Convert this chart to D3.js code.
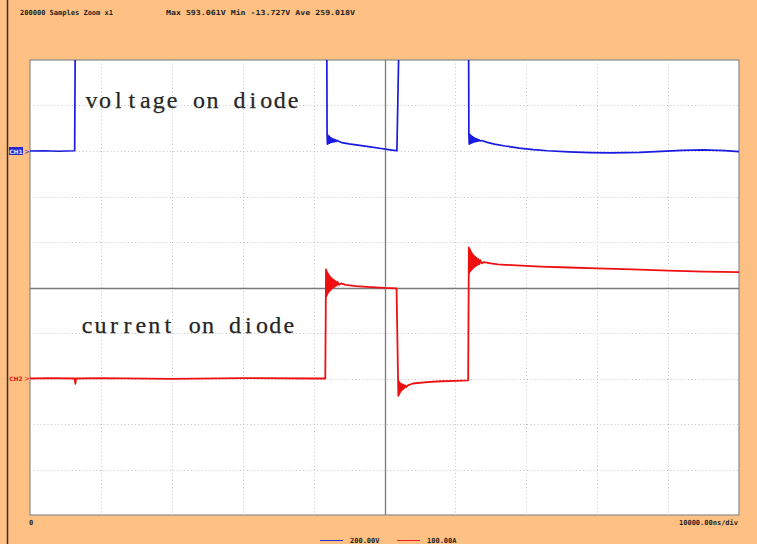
<!DOCTYPE html>
<html>
<head>
<meta charset="utf-8">
<script src="https://cdn.jsdelivr.net/npm/d3@7"></script>
<style>
  html, body { margin: 0; padding: 0; background: #FFC183; }
  svg { display: block; }
</style>
</head>
<body>
<svg id="scope" width="757" height="544"></svg>
<script>
// ---- Acquisition header / footer text ----
const headerLeft = "200000 Samples Zoom x1";
const headerStats = "Max  593.061V  Min  -13.727V  Ave  259.018V";
const timeBase = "10000.00ns/div";
const timeOrigin = "0";
const channelScales = ["200.00V", "100.00A"];
const channelNames = ["CH1", "CH2"];
const annotations = ["voltage on diode", "current on diode"];

// ---- Screen layout: 10 x 10 divisions, 10 us/div ----
const timeDomain = [0, 100];          // microseconds
const divDomain = [-5, 5];            // vertical divisions
const voltsPerDiv = 200;
const ampsPerDiv = 100;
const ch1Offset = 3;                  // CH1 reference (div)
const ch2Offset = -2;                 // CH2 reference (div)

// ---- CH1: diode voltage [time us, volts] ----
const voltageTrace = [
  [0, 0], [2, 1], [4, -1], [6.3, 1], [6.4, 593], [41.85, 593],
  [41.9, 74], [41.95, 30], [42.0, 70], [42.05, 32], [42.1, 67], [42.15, 34],
  [42.2, 64], [42.25, 35], [42.3, 61], [42.36, 37], [42.42, 58], [42.48, 38],
  [42.55, 56], [42.62, 39], [42.7, 53], [42.78, 40], [42.87, 51], [42.96, 41],
  [43.06, 49], [43.17, 42], [43.3, 47], [43.5, 43], [44.0, 37], [45.0, 31],
  [46.5, 25], [48.0, 18], [49.5, 11], [50.8, 5], [51.75, 1], [52.1, 593], [61.85, 593],
  [61.9, 78], [61.95, 30], [62.0, 74], [62.05, 32], [62.1, 71], [62.15, 34],
  [62.2, 68], [62.25, 35], [62.3, 65], [62.36, 37], [62.42, 62], [62.48, 38],
  [62.55, 60], [62.62, 40], [62.7, 57], [62.78, 41], [62.87, 55], [62.96, 42],
  [63.06, 53], [63.17, 43], [63.3, 50], [63.45, 44], [63.7, 46], [64.5, 38],
  [65.5, 30], [67.0, 22], [69.0, 13], [71.0, 6], [73.0, 1], [76.0, -4],
  [79.0, -7], [82.0, -8], [86.0, -6], [89.0, -2], [92.0, 3], [95.0, 5],
  [98.0, 2], [100, -3]
];

// ---- CH2: diode current [time us, amps] ----
const currentTrace = [
  [0, 0], [3, 1], [6.3, 0], [6.4, -12], [6.5, 0], [10, 1], [20, -1],
  [30, 1], [40, 0], [41.65, 0], [41.75, 240],
  [41.8, 180], [41.85, 236], [41.9, 184], [41.95, 233], [42.0, 187],
  [42.05, 230], [42.1, 190], [42.16, 227], [42.22, 192], [42.28, 225],
  [42.34, 194], [42.41, 222], [42.48, 196], [42.55, 220], [42.63, 198],
  [42.71, 218], [42.8, 200], [42.9, 216], [43.0, 202], [43.12, 214],
  [43.25, 204], [43.4, 212], [43.6, 206], [43.9, 209], [44.5, 206],
  [46.0, 203], [48.0, 201], [50.0, 199], [51.7, 198],
  [51.95, -38], [52.0, -6], [52.05, -35], [52.1, -8], [52.16, -32],
  [52.22, -10], [52.28, -29], [52.35, -12], [52.42, -26], [52.5, -13],
  [52.59, -24], [52.68, -14], [52.78, -21], [52.9, -15], [53.05, -19],
  [53.3, -15], [54.0, -11], [56.0, -8], [58.0, -6], [60.0, -5],
  [61.8, -4], [61.9, 288],
  [61.95, 232], [62.0, 285], [62.05, 235], [62.1, 282], [62.15, 237],
  [62.2, 279], [62.26, 239], [62.32, 276], [62.38, 241], [62.45, 273],
  [62.52, 243], [62.6, 270], [62.68, 245], [62.77, 268], [62.87, 247],
  [62.97, 265], [63.08, 249], [63.2, 263], [63.35, 251], [63.5, 260],
  [63.7, 253], [64.0, 256], [65.0, 253], [66.0, 251], [68.0, 249],
  [72.0, 246], [76.0, 244], [80.0, 242], [85.0, 240], [90.0, 237],
  [95.0, 235], [100, 234]
];

const plot = { left: 30, top: 60, right: 739, bottom: 515 };
const svg = d3.select("#scope");

const x = d3.scaleLinear().domain(timeDomain).range([plot.left, plot.right]);
const y = d3.scaleLinear().domain(divDomain).range([plot.bottom, plot.top]);
const yV = v => y(v / voltsPerDiv + ch1Offset);
const yI = i => y(i / ampsPerDiv + ch2Offset);

// instrument frame edge on the left
svg.append("line")
  .attr("x1", 7.5).attr("x2", 7.5).attr("y1", 0).attr("y2", 544)
  .attr("stroke", "#3a3028").attr("stroke-width", 1.5);

// header
const small = { "font-family": "DejaVu Sans Mono, monospace", "font-weight": "bold", "font-size": "7px", fill: "#1e1e1e" };
function applyAttrs(sel, attrs) { Object.entries(attrs).forEach(([k, v]) => sel.attr(k, v)); return sel; }
applyAttrs(svg.append("text").attr("x", 20).attr("y", 15)
  .attr("textLength", 93).attr("lengthAdjust", "spacingAndGlyphs").text(headerLeft), small);
applyAttrs(svg.append("text").attr("x", 166).attr("y", 15)
  .attr("textLength", 189).attr("lengthAdjust", "spacingAndGlyphs").text(headerStats), small);

// plot area
svg.append("rect")
  .attr("x", plot.left).attr("y", plot.top)
  .attr("width", plot.right - plot.left).attr("height", plot.bottom - plot.top)
  .attr("fill", "#ffffff").attr("stroke", "#8a8a8a").attr("stroke-width", 1.2);

// dotted graticule
const tDivs = d3.range(timeDomain[0], timeDomain[1] + 1, 10);
const vDivs = d3.range(divDomain[0], divDomain[1] + 1, 1);
const grid = svg.append("g");
grid.selectAll(".gx").data(tDivs.slice(1, -1)).join("line")
  .attr("x1", d => Math.round(x(d)) + 0.5).attr("x2", d => Math.round(x(d)) + 0.5)
  .attr("y1", plot.top).attr("y2", plot.bottom)
  .attr("stroke", d => d === 50 ? "#7a7a7a" : "#c4c4c4")
  .attr("stroke-width", d => d === 50 ? 1.3 : 1)
  .attr("stroke-dasharray", d => d === 50 ? null : "1,2.5");
grid.selectAll(".gy").data(vDivs.slice(1, -1)).join("line")
  .attr("y1", d => Math.round(y(d)) + 0.5).attr("y2", d => Math.round(y(d)) + 0.5)
  .attr("x1", plot.left).attr("x2", plot.right)
  .attr("stroke", d => d === 0 ? "#7a7a7a" : "#c4c4c4")
  .attr("stroke-width", d => d === 0 ? 1.3 : 1)
  .attr("stroke-dasharray", d => d === 0 ? null : "1,2.5");

// traces
svg.append("clipPath").attr("id", "screen").append("rect")
  .attr("x", plot.left).attr("y", plot.top)
  .attr("width", plot.right - plot.left).attr("height", plot.bottom - plot.top);
const traces = svg.append("g").attr("clip-path", "url(#screen)");

const vLine = d3.line().x(d => x(d[0])).y(d => yV(d[1]));
const iLine = d3.line().x(d => x(d[0])).y(d => yI(d[1]));

traces.append("path").datum(currentTrace).attr("d", iLine)
  .attr("fill", "none").attr("stroke", "#ee1010").attr("stroke-width", 1.8)
  .attr("stroke-linejoin", "round");
traces.append("path").datum(voltageTrace).attr("d", vLine)
  .attr("fill", "none").attr("stroke", "#1a1ae0").attr("stroke-width", 1.7)
  .attr("stroke-linejoin", "round");

// channel reference markers
const m1 = y(ch1Offset), m2 = y(ch2Offset);
svg.append("rect").attr("x", 9).attr("y", m1 - 4).attr("width", 14).attr("height", 8).attr("fill", "#2626d0");
svg.append("text").attr("x", 16).attr("y", m1 + 2.5).attr("text-anchor", "middle")
  .attr("font-family", "DejaVu Sans, sans-serif").attr("font-size", "6px").attr("font-weight", "bold")
  .attr("fill", "#e0e0ff").text(channelNames[0]);
svg.append("text").attr("x", 24).attr("y", m1 + 2.5)
  .attr("font-family", "DejaVu Sans, sans-serif").attr("font-size", "7px").attr("fill", "#2626d0").text(">");
svg.append("text").attr("x", 16).attr("y", m2 + 2.5).attr("text-anchor", "middle")
  .attr("font-family", "DejaVu Sans, sans-serif").attr("font-size", "6px").attr("font-weight", "bold")
  .attr("fill", "#e01818").text(channelNames[1]);
svg.append("text").attr("x", 24).attr("y", m2 + 2.5)
  .attr("font-family", "DejaVu Sans, sans-serif").attr("font-size", "7px").attr("fill", "#e01818").text(">");

// annotations, laid out on a fixed character pitch
function monoText(str, x0, baseline, pitch) {
  const g = svg.append("g");
  g.selectAll("text").data(str.split("")).join("text")
    .attr("x", (c, i) => x0 + (i + 0.5) * pitch)
    .attr("y", baseline)
    .attr("text-anchor", "middle")
    .attr("font-family", "Liberation Serif, serif")
    .attr("font-size", "24px")
    .attr("fill", "#262626")
    .attr("stroke", "#262626").attr("stroke-width", 0.25)
    .text(c => c);
}
monoText(annotations[0], 84.7, 108, 13.45);
monoText(annotations[1], 80.3, 333, 13.45);

// time axis labels
applyAttrs(svg.append("text").attr("x", 29).attr("y", 525).text(timeOrigin), small);
applyAttrs(svg.append("text").attr("x", 738).attr("y", 525).attr("text-anchor", "end").text(timeBase), small);

// channel scale legend
const legend = [
  { x: 320, color: "#2a2ad8", label: channelScales[0] },
  { x: 397, color: "#ee2020", label: channelScales[1] }
];
legend.forEach(l => {
  svg.append("line").attr("x1", l.x).attr("x2", l.x + 23).attr("y1", 540.5).attr("y2", 540.5)
    .attr("stroke", l.color).attr("stroke-width", 1);
  applyAttrs(svg.append("text").attr("x", l.x + 30).attr("y", 543).text(l.label), small);
});
</script>
</body>
</html>
